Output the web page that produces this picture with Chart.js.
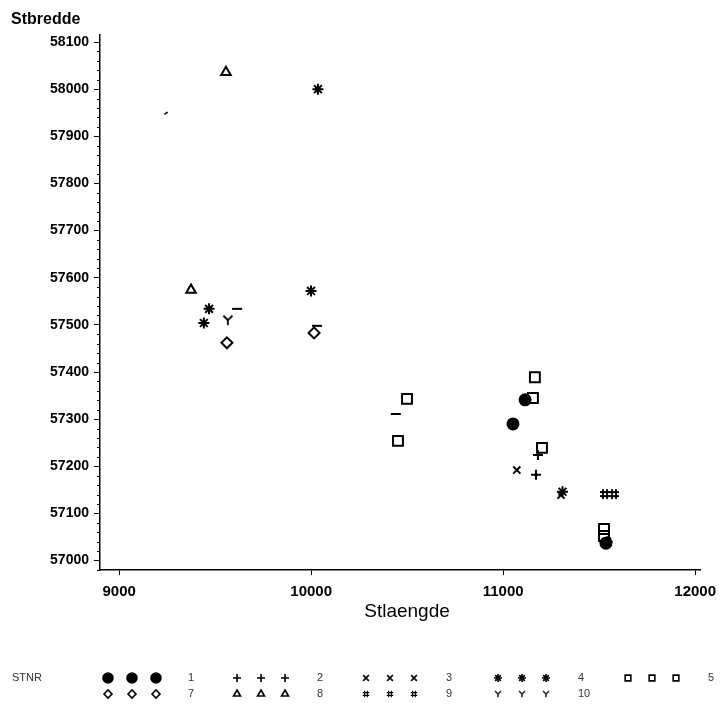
<!DOCTYPE html>
<html>
<head>
<meta charset="utf-8">
<script src="https://cdn.jsdelivr.net/npm/chart.js@4/dist/chart.umd.min.js"></script>
<style>
  html, body { margin: 0; padding: 0; background: #fff; }
  #wrap { width: 720px; height: 709px; position: relative; }
</style>
</head>
<body>
<div id="wrap"><canvas id="chart" width="720" height="709"></canvas></div>
<script>
// station groups (STNR) and their positions: Stlaengde (x) / Stbredde (y)
const stations = ["1", "2", "3", "4", "5", "7", "8", "9", "10"];

const st1X = [11114, 11051, 11535];
const st1Y = [57341, 57290, 57037];
const st2X = [11171, 11181];
const st2Y = [57182, 57224];
const st3X = [11071, 11301];
const st3Y = [57192, 57139];
const st4X = [10035, 9468, 9441, 9999, 11309, 11541];
const st4Y = [58000, 57534, 57504, 57572, 57146, 57040];
const st5X = [11165, 11155, 11202, 10499, 10452, 11525, 11525];
const st5Y = [57389, 57345, 57239, 57343, 57254, 57067, 57052];
const st7X = [9561, 10015];
const st7Y = [57462, 57483];
const st8X = [9556, 9374];
const st8Y = [58036, 57574];
const st9X = [11530, 11577];
const st9Y = [57141, 57141];
const st10X = [9566];
const st10Y = [57510];
// faded marks (only a bar or a speck left visible)
const dashX = [9614, 10441, 10030];
const dashY = [57534, 57311, 57498];
const speckX = [9244];
const speckY = [57949];

const xTicks = [9000, 10000, 11000, 12000];
const yTicks = [57000, 57100, 57200, 57300, 57400, 57500, 57600, 57700, 57800, 57900, 58000, 58100];

function pts(xs, ys) {
  return xs.map((x, i) => ({ x: x, y: ys[i] }));
}

// custom markers that chart.js doesn't have
function makeMarker(kind) {
  const c = document.createElement("canvas");
  c.width = 12;
  c.height = 12;
  const g = c.getContext("2d");
  g.strokeStyle = "#000";
  g.lineWidth = 1.8;
  g.beginPath();
  if (kind === "hash") {
    g.moveTo(1, 4); g.lineTo(11, 4);
    g.moveTo(1, 8); g.lineTo(11, 8);
    g.moveTo(4, 1); g.lineTo(4, 11);
    g.moveTo(8, 1); g.lineTo(8, 11);
  } else {
    g.moveTo(1.5, 1.5); g.lineTo(6, 6);
    g.moveTo(10.5, 1.5); g.lineTo(6, 6);
    g.lineTo(6, 11);
  }
  g.stroke();
  return c;
}
const hashImg = makeMarker("hash");
const yImg = makeMarker("y");

const styles = {
  "1": { pointStyle: "circle", radius: 5.5, fill: true },
  "2": { pointStyle: "cross", radius: 5, fill: false },
  "3": { pointStyle: "crossRot", radius: 5, fill: false },
  "4": { pointStyle: "star", radius: 5.5, fill: false },
  "5": { pointStyle: "rect", radius: 7, fill: false },
  "7": { pointStyle: "rectRot", radius: 5.5, fill: false },
  "8": { pointStyle: "triangle", radius: 5.5, fill: false },
  "9": { pointStyle: hashImg, radius: 6, fill: false },
  "10": { pointStyle: yImg, radius: 6, fill: false },
};

const groups = [
  [st1X, st1Y], [st2X, st2Y], [st3X, st3Y], [st4X, st4Y], [st5X, st5Y],
  [st7X, st7Y], [st8X, st8Y], [st9X, st9Y], [st10X, st10Y],
];

const datasets = stations.map((s, i) => {
  const st = styles[s];
  return {
    label: s,
    data: pts(groups[i][0], groups[i][1]),
    pointStyle: st.pointStyle,
    pointRadius: st.radius,
    pointHoverRadius: st.radius,
    pointBorderWidth: 2,
    pointBorderColor: "#000",
    pointBackgroundColor: st.fill ? "#000" : "rgba(0,0,0,0)",
    showLine: false,
  };
});

datasets.push({
  label: "",
  data: pts(dashX, dashY),
  pointStyle: "line",
  pointRadius: 5,
  pointBorderWidth: 2,
  pointBorderColor: "#000",
  showLine: false,
});
datasets.push({
  label: "",
  data: pts(speckX, speckY),
  pointStyle: "line",
  rotation: -35,
  pointRadius: 2,
  pointBorderWidth: 1.5,
  pointBorderColor: "#000",
  showLine: false,
});

const FONT = "'Liberation Sans', Arial, sans-serif";

function drawMark(ctx, st, x, y, r) {
  ctx.save();
  ctx.strokeStyle = "#000";
  ctx.fillStyle = st.fill ? "#000" : "rgba(0,0,0,0)";
  ctx.lineWidth = 1.6;
  if (typeof st.pointStyle === "string") {
    Chart.helpers.drawPoint(ctx, { pointStyle: st.pointStyle, radius: r, rotation: 0, borderWidth: 1.6 }, x, y);
  } else {
    ctx.drawImage(st.pointStyle, x - 4, y - 4, 8, 8);
  }
  ctx.restore();
}

const extras = {
  id: "extras",
  afterDraw(chart) {
    const ctx = chart.ctx;
    const yScale = chart.scales.y;
    const left = chart.chartArea.left;

    // minor ticks on the y axis
    ctx.save();
    ctx.strokeStyle = "#000";
    ctx.lineWidth = 1;
    ctx.beginPath();
    for (let v = 56980; v <= 58100; v += 20) {
      if (v % 100 === 0) continue;
      const py = Math.round(yScale.getPixelForValue(v)) + 0.5;
      ctx.moveTo(left - 3, py);
      ctx.lineTo(left, py);
    }
    ctx.stroke();

    // axis titles
    ctx.fillStyle = "#000";
    ctx.font = "bold 16px " + FONT;
    ctx.textAlign = "left";
    ctx.textBaseline = "alphabetic";
    ctx.fillText("Stbredde", 11, 24);

    ctx.font = "19px " + FONT;
    ctx.textAlign = "center";
    ctx.textBaseline = "middle";
    ctx.fillText("Stlaengde", 407, 612);

    // legend: three copies of each marker, then the station number
    ctx.font = "11px " + FONT;
    ctx.fillStyle = "#333";
    ctx.textAlign = "left";
    ctx.fillText("STNR", 12, 678);
    const colX = [108, 237, 366, 498, 628];
    stations.forEach((s, i) => {
      const row = i < 5 ? 0 : 1;
      const col = i < 5 ? i : i - 5;
      const ly = row === 0 ? 678 : 694;
      const x0 = colX[col];
      for (let k = 0; k < 3; k++) {
        drawMark(ctx, styles[s], x0 + k * 24, ly, s === "1" ? 5 : 4);
      }
      ctx.fillStyle = "#333";
      ctx.textAlign = "left";
      ctx.fillText(s, x0 + 80, ly);
    });
    ctx.restore();
  },
};

new Chart(document.getElementById("chart"), {
  type: "scatter",
  data: { datasets: datasets },
  options: {
    responsive: false,
    animation: false,
    events: [],
    layout: { padding: { top: 35, right: 20, left: 0, bottom: 0 } },
    plugins: {
      legend: { display: false },
      tooltip: { enabled: false },
      title: { display: false },
    },
    scales: {
      x: {
        type: "linear",
        min: 8900,
        max: 12025,
        afterBuildTicks: (scale) => {
          scale.ticks = xTicks.map((v) => ({ value: v }));
        },
        afterFit: (scale) => {
          scale.height = 139;
          scale.paddingRight = 0;
          scale.paddingLeft = 0;
        },
        ticks: {
          color: "#000",
          font: { family: FONT, size: 15, weight: "bold" },
          padding: 8,
          maxRotation: 0,
          autoSkip: false,
          callback: (v) => String(v),
        },
        grid: { drawOnChartArea: false, drawTicks: true, tickLength: 5, color: "#000" },
        border: { display: true, color: "#000", width: 1.5 },
      },
      y: {
        type: "linear",
        min: 56980,
        max: 58115,
        afterBuildTicks: (scale) => {
          scale.ticks = yTicks.map((v) => ({ value: v }));
        },
        afterFit: (scale) => {
          scale.width = 100;
          scale.paddingTop = 0;
          scale.paddingBottom = 0;
        },
        ticks: {
          color: "#000",
          font: { family: FONT, size: 14, weight: "bold" },
          padding: 5,
          autoSkip: false,
          callback: (v) => String(v),
        },
        grid: { drawOnChartArea: false, drawTicks: true, tickLength: 6, color: "#000" },
        border: { display: true, color: "#000", width: 1.5 },
      },
    },
  },
  plugins: [extras],
});
</script>
</body>
</html>
